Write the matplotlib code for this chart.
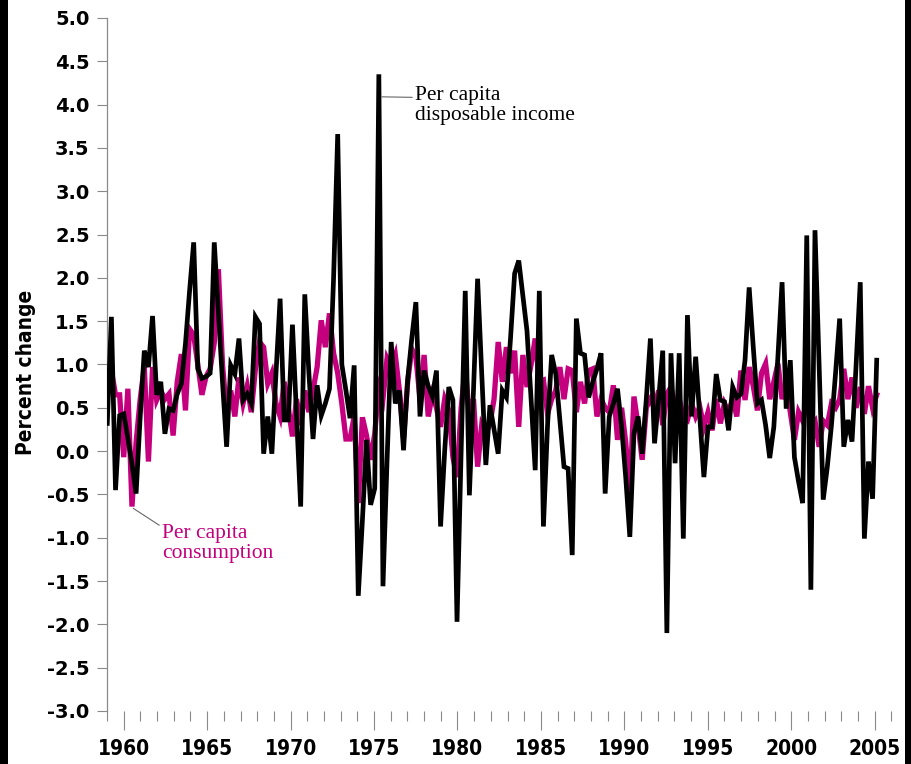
import matplotlib
matplotlib.use("Agg")
import matplotlib.pyplot as plt
from matplotlib.patches import Rectangle
from matplotlib.ticker import MultipleLocator

# quarterly percent change, 1959Q1 onward
income = [
    0.32, 1.55, -0.45, 0.41, 0.43, 0.15, -0.15, -0.49, 0.40, 1.16,
    0.97, 1.56, 0.65, 0.80, 0.20, 0.49, 0.47, 0.66, 0.78, 1.24,
    1.85, 2.41, 0.95, 0.84, 0.86, 0.90, 2.41, 1.60, 0.80, 0.05,
    0.99, 0.89, 1.30, 0.59, 0.66, 0.55, 1.55, 1.47, -0.03, 0.40,
    -0.03, 0.90, 1.76, 0.36, 0.36, 1.46, 0.40, -0.64, 1.81, 0.90,
    0.14, 0.76, 0.41, 0.55, 0.72, 2.00, 3.66, 1.00, 0.70, 0.38,
    0.99, -1.67, -0.80, 0.13, -0.62, -0.43, 4.35, -1.56, -0.10, 1.26,
    0.55, 0.70, 0.01, 0.82, 1.30, 1.72, 0.40, 0.93, 0.75, 0.63,
    0.93, -0.87, 0.00, 0.74, 0.59, -1.97, 0.00, 1.85, -0.51, 0.70,
    1.99, 0.90, -0.16, 0.53, 0.25, -0.03, 0.70, 0.62, 1.30, 2.05,
    2.20, 1.80, 1.39, 0.60, -0.22, 1.85, -0.87, 0.30, 1.11, 0.89,
    0.35, -0.18, -0.20, -1.20, 1.53, 1.13, 1.11, 0.62, 0.80, 0.95,
    1.13, -0.49, 0.40, 0.55, 0.72, 0.28, -0.30, -0.99, 0.20, 0.40,
    -0.03, 0.60, 1.30, 0.09, 0.60, 1.16, -2.10, 1.13, -0.14, 1.13,
    -1.01, 1.57, 0.40, 1.09, 0.40, -0.30, 0.28, 0.28, 0.89, 0.59,
    0.57, 0.24, 0.74, 0.62, 0.66, 1.05, 1.89, 1.20, 0.55, 0.59,
    0.30, -0.08, 0.28, 1.10, 1.95, 0.49, 1.05, -0.07, -0.35, -0.60,
    2.49, -1.60, 2.55, 1.00, -0.56, -0.18, 0.30, 0.90, 1.53, 0.05,
    0.36, 0.11, 1.00, 1.95, -1.01, -0.12, -0.55, 1.05,
]

consumption = [
    0.95, 0.93, 0.65, 0.65, -0.07, 0.72, -0.64, 0.10, 0.60, 0.97,
    -0.12, 0.97, 0.59, 0.70, 0.60, 0.66, 0.18, 0.80, 1.12, 0.47,
    1.41, 1.34, 1.00, 0.65, 0.86, 0.95, 1.25, 2.10, 1.00, 0.45,
    0.70, 0.40, 0.85, 0.55, 0.75, 0.45, 0.95, 1.26, 1.20, 0.78,
    0.90, 0.55, 0.40, 0.80, 0.50, 0.17, 0.60, 0.30, 0.70, 0.45,
    0.70, 0.97, 1.51, 1.20, 1.59, 1.13, 0.90, 0.55, 0.14, 0.14,
    0.40, -0.60, 0.39, 0.18, -0.10, 0.20, 0.75, 0.60, 1.07, 0.97,
    1.11, 0.70, 0.15, 0.80, 1.18, 1.09, 0.60, 1.11, 0.40, 0.65,
    0.50, 0.28, 0.60, 0.47, -0.07, -0.30, 0.50, 0.97, 0.40, 0.60,
    -0.18, 0.30, 0.20, 0.32, 0.60, 1.26, 0.80, 1.20, 0.90, 1.16,
    0.28, 1.11, 0.74, 1.00, 1.30, 0.80, 0.82, 0.43, 0.60, 0.70,
    0.97, 0.60, 0.95, 0.93, 0.45, 0.80, 0.55, 0.93, 0.95, 0.40,
    0.60, 0.50, 0.45, 0.76, 0.13, 0.50, 0.10, -0.49, 0.63, 0.30,
    -0.10, 0.50, 0.60, 0.50, 0.70, 0.30, 0.66, 0.74, 0.50, 0.60,
    0.40, 0.36, 0.55, 0.40, 0.51, 0.28, 0.45, 0.24, 0.60, 0.32,
    0.55, 0.45, 0.60, 0.40, 0.93, 0.59, 0.97, 0.75, 0.47, 0.90,
    1.01, 0.60, 0.80, 1.01, 0.60, 0.80, 0.45, 0.13, 0.45, 0.35,
    0.60, 0.30, 0.35, 0.05, 0.35, 0.30, 0.55, 0.50, 0.60, 0.95,
    0.60, 0.85, 0.50, 0.74, 0.43, 0.75, 0.50, 0.65,
]

quarters = list(range(len(income)))
year_labels = list(range(1960, 2006, 5))
y_ticks = [-3.0 + 0.5 * k for k in range(17)]

plt.rcParams['axes.unicode_minus'] = False

MAGENTA = '#c4007f'
GREY = '#8a8a8a'

fig = plt.figure(figsize=(9.12, 7.64), dpi=100)
fig.patch.set_facecolor('black')
fig.add_artist(Rectangle((8 / 912, 0), 897 / 912, 1, transform=fig.transFigure,
                         facecolor='white', edgecolor='none', zorder=-10))

rect = [107 / 912, 53 / 764, 786 / 912, 693 / 764]
ax = fig.add_axes(rect)
ax.patch.set_alpha(0)
ax.plot(quarters, consumption, color=MAGENTA, lw=3.8, solid_joinstyle='miter', zorder=2)
ax.plot(quarters, income, color='black', lw=3.4, solid_joinstyle='miter', zorder=3)
ax.set_xlim(-0.07, 190.96)
ax.set_ylim(-3, 5)

for s in ['top', 'right', 'bottom']:
    ax.spines[s].set_visible(False)
ax.spines['left'].set_color(GREY)
ax.spines['left'].set_linewidth(0.9)
ax.set_xticks([])
ax.set_yticks(y_ticks)
ax.set_yticklabels([f'{v:.1f}' for v in y_ticks])
ax.tick_params(axis='y', direction='out', length=7.5, width=0.8, color=GREY, pad=5)
for t in ax.get_yticklabels():
    t.set_fontfamily('DejaVu Sans')
    t.set_fontweight('bold')
    t.set_fontsize(14)
ax.set_ylabel('Percent change', fontsize=15, fontweight='bold', family='DejaVu Sans',
              fontstretch='condensed')
ax.yaxis.set_label_coords(-0.090, 0.489)

# year axis along the bottom
axy = fig.add_axes(rect, frameon=False)
axy.patch.set_alpha(0)
axy.set_xlim(1959, 2006.1)
axy.set_ylim(0, 1)
axy.set_yticks([])
axy.spines['bottom'].set_visible(True)
axy.spines['bottom'].set_color(GREY)
axy.spines['bottom'].set_linewidth(0.9)
axy.set_xticks(year_labels)
axy.set_xticklabels([str(y) for y in year_labels])
axy.xaxis.set_minor_locator(MultipleLocator(1))
axy.tick_params(axis='x', which='major', direction='out', length=14, width=0.8,
                color=GREY, pad=6)
axy.tick_params(axis='x', which='minor', direction='out', length=7.5, width=0.8, color=GREY)
for t in axy.get_xticklabels():
    t.set_fontfamily('DejaVu Sans')
    t.set_fontstretch('condensed')
    t.set_fontweight('bold')
    t.set_fontsize(15)

ax.annotate('Per capita\ndisposable income', xy=(66.7, 4.09), xytext=(74.8, 4.22),
            ha='left', va='top', fontsize=15.5, family='Liberation Serif',
            linespacing=1.1, color='black',
            arrowprops=dict(arrowstyle='-', color='#666666', lw=0.8,
                            shrinkA=0, shrinkB=0, relpos=(0, 0.7)))
ax.annotate('Per capita\nconsumption', xy=(6.3, -0.66), xytext=(13.3, -0.84),
            ha='left', va='top', fontsize=15.5, family='Liberation Serif',
            linespacing=1.1, color=MAGENTA,
            arrowprops=dict(arrowstyle='-', color='#666666', lw=0.8,
                            shrinkA=0, shrinkB=0, relpos=(0, 0.92)))

fig.savefig('out.png', dpi=100, facecolor=fig.get_facecolor())
